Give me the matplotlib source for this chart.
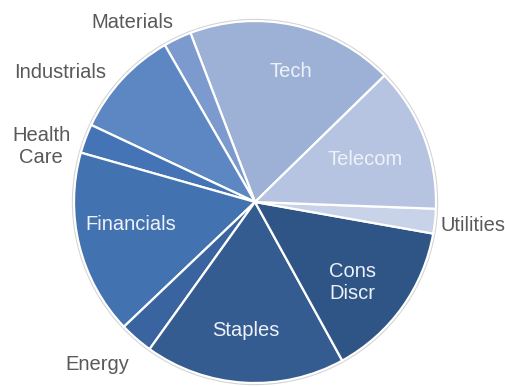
import matplotlib
matplotlib.use("Agg")
import matplotlib.pyplot as plt
from matplotlib.patches import Circle
import numpy as np

sectors = ["Tech", "Materials", "Industrials", "Health\nCare", "Financials",
           "Energy", "Staples", "Cons\nDiscr", "Utilities", "Telecom"]
weights = [18.5, 2.5, 9.7, 2.6, 16.5, 3.0, 17.9, 14.2, 2.2, 12.9]
colors = ["#9DB1D6", "#7C9ACD", "#5C87C2", "#4474B6", "#4272AF",
          "#3A64A0", "#345C91", "#2F5587", "#C8D2E8", "#B6C4E2"]
inside = [True, False, False, False, True, False, True, True, False, True]

# label placement (radius factor, angle offset in degrees) relative to wedge middle
label_r = [0.745, 1.20, 1.29, 1.22, 0.70, 1.25, 0.71, 0.70, 1.21, 0.65]
label_da = [-3, 9, 9, 6, -3.5, -3, -0.5, -4, 0, 0]

W, H = 505, 387
fig = plt.figure(figsize=(W / 100, H / 100), dpi=100)
ax = fig.add_axes([0, 0, 1, 1])
cx, cy, R = 255, 202, 181

ax.add_patch(Circle((0, 0), 1.012, facecolor="#D4D4D4", edgecolor="none", zorder=0))

wedges, _ = ax.pie(weights, colors=colors, startangle=44.3, counterclock=True,
                   radius=1.0, center=(0, 0), frame=True,
                   wedgeprops=dict(edgecolor="white", linewidth=1.6))
ax.set_xlim(-cx / R, (W - cx) / R)
ax.set_ylim(-(H - cy) / R, cy / R)
ax.set_aspect("equal")
ax.axis("off")

fam = ["Liberation Sans", "DejaVu Sans"]
for w, name, r, da, ins in zip(wedges, sectors, label_r, label_da, inside):
    mid = np.deg2rad((w.theta1 + w.theta2) / 2 + da)
    x, y = r * np.cos(mid), r * np.sin(mid)
    ax.text(x, y, name, ha="center", va="center", family=fam, fontsize=14.5,
            color="#EEF2F8" if ins else "#595959", linespacing=1.2)

fig.savefig("out.png", dpi=100)
